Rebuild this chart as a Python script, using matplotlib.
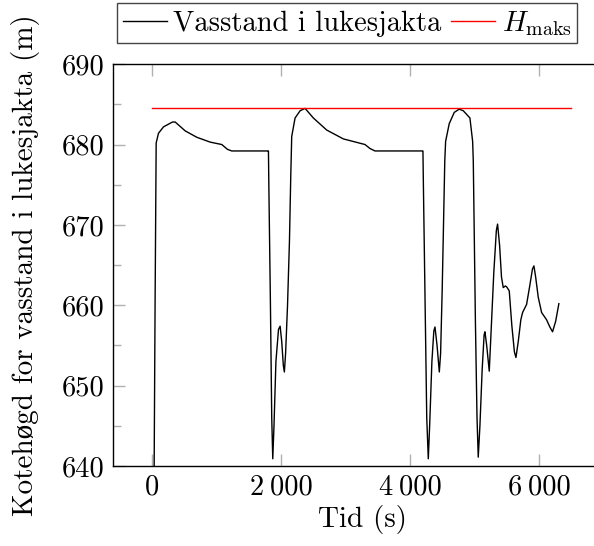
import numpy as np
import matplotlib
matplotlib.use("Agg")
import matplotlib.pyplot as plt
from matplotlib.ticker import MultipleLocator, FuncFormatter

plt.rcParams['font.family'] = ['cmr10', 'Liberation Serif', 'DejaVu Serif']
plt.rcParams['mathtext.fontset'] = 'cm'
plt.rcParams['axes.unicode_minus'] = False

FS = 20.5

# water level in the gate shaft
tid = [0, 20, 45, 62, 98, 176, 315, 357, 512, 693, 900, 1080, 1168, 1235, 1794, 1804,
       1810, 1835, 1855, 1871, 1890, 1920, 1960, 1985, 2010, 2035, 2051, 2070, 2100, 2130, 2150,
       2165, 2217, 2295, 2372, 2501, 2708, 2966, 3302, 3380, 3457, 4191, 4201,
       4208, 4235, 4260, 4284, 4305, 4340, 4370, 4388, 4420, 4455, 4475, 4500, 4525, 4540,
       4553, 4609, 4687, 4764, 4827, 4930, 4972, 4982,
       4992, 5015, 5040, 5059, 5085, 5120, 5150, 5163, 5190, 5230, 5260, 5300, 5340, 5359,
       5390, 5420, 5447, 5480, 5499, 5540, 5580, 5620, 5644, 5680, 5720, 5747, 5809, 5860,
       5900, 5923, 5950, 5990, 6042, 6119, 6170, 6212, 6260, 6310]
vasstand = [600, 625, 660, 680.2, 681.4, 682.2, 682.8, 682.8, 681.7, 680.9, 680.3, 680.0, 679.4, 679.2, 679.2, 679.2,
            675, 660, 646, 640.9, 645, 653, 657.0, 657.4, 655.5, 652.5, 651.7, 654, 660, 668, 676,
            681.0, 683.3, 684.2, 684.5, 683.3, 681.8, 680.7, 680.0, 679.5, 679.2, 679.2, 679.2,
            675, 660, 646, 640.9, 645, 653, 656.8, 657.3, 655, 651.7, 654, 662, 672, 678,
            680.4, 682.6, 684.0, 684.4, 684.2, 683.3, 680.4, 678,
            672, 658, 646, 641.1, 645, 652, 656.3, 656.7, 655, 651.8, 657, 664, 669.3, 670.1,
            667.5, 663.5, 662.2, 662.4, 662.3, 661.8, 657.5, 654.2, 653.5, 655.5, 658.2, 659.1, 660.1, 662.5,
            664.5, 664.9, 663.5, 661, 659.1, 658.2, 657.3, 656.7, 658, 660.2]

h_maks_tid = [0, 6500]
h_maks = [684.5, 684.5]

fig = plt.figure(figsize=(5.94, 5.46), dpi=100)
ax = fig.add_axes([0.190, 0.1465, 0.842, 0.736])

ax.plot(tid, vasstand, color='black', lw=1.0, label='Vasstand i lukesjakta')
ax.plot(h_maks_tid, h_maks, color='red', lw=1.0, label=r'$H_\mathrm{maks}$')

ax.set_xlim(-610, 7150)
ax.set_ylim(640, 690)
ax.xaxis.set_major_locator(MultipleLocator(2000))
ax.yaxis.set_major_locator(MultipleLocator(10))
ax.yaxis.set_minor_locator(MultipleLocator(5))
ax.xaxis.set_major_formatter(FuncFormatter(
    lambda v, p: f"{int(v):,}".replace(",", "\u2009")))

ax.tick_params(which='both', direction='in', top=True, right=True,
               color='#b0b0b0', labelsize=FS, width=1.0)
ax.tick_params(which='major', length=8.5, pad=6)
ax.tick_params(which='minor', length=5.5)
for s in ax.spines.values():
    s.set_linewidth(1.0)

ax.set_xlabel('Tid (s)', fontsize=21, labelpad=3)
ax.set_ylabel('Kotehøgd for vasstand i lukesjakta (m)', fontsize=21, labelpad=16)

leg = ax.legend(loc='lower left', bbox_to_anchor=(0.008, 1.052), ncol=2,
                fontsize=FS, frameon=True, fancybox=False, borderaxespad=0,
                handlelength=1.55, handletextpad=0.22, columnspacing=0.35,
                borderpad=0.2, framealpha=1)
leg.get_frame().set_edgecolor('#444444')
leg.get_frame().set_linewidth(1.0)

fig.savefig('out.png', dpi=100)
